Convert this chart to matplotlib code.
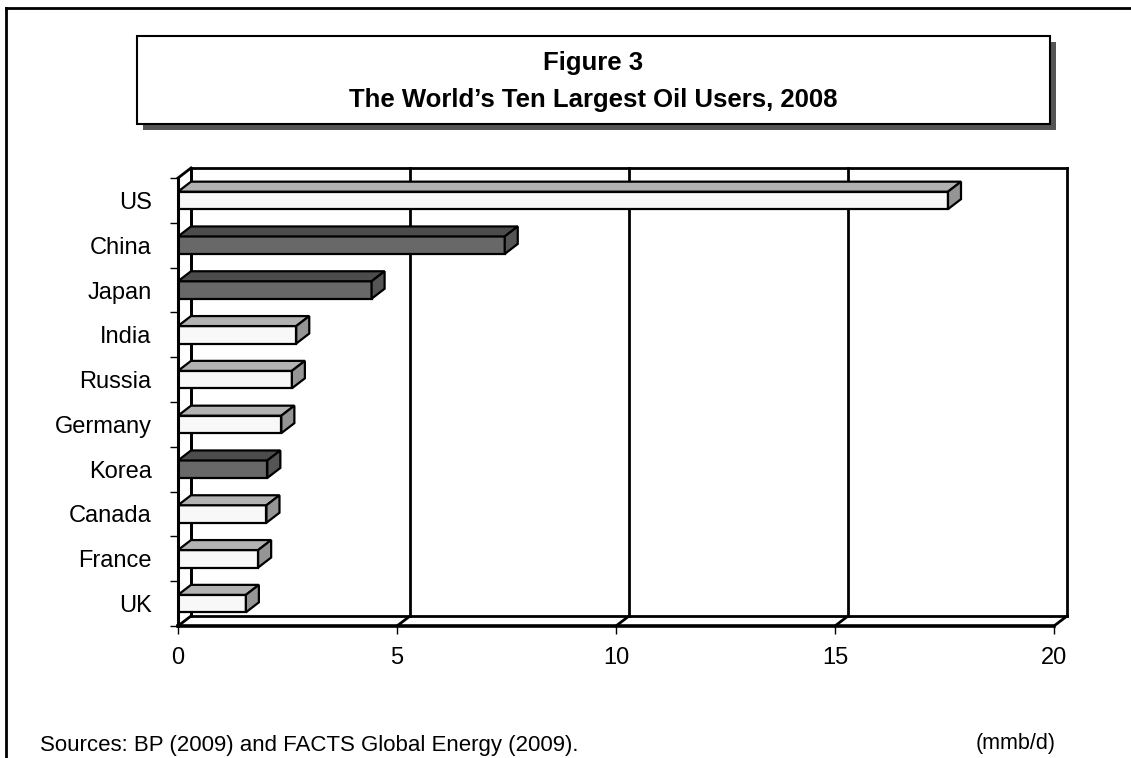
import numpy as np
import matplotlib.pyplot as plt
from matplotlib.patches import Polygon, Rectangle
from matplotlib.lines import Line2D

# ---- Data (mmb/d) ----
countries = ["US", "China", "Japan", "India", "Russia",
             "Germany", "Korea", "Canada", "France", "UK"]
consumption = [17.58, 7.46, 4.42, 2.70, 2.60, 2.36, 2.04, 2.02, 1.83, 1.55]
dark_ones = ["China", "Japan", "Korea"]
xticks = [0, 5, 10, 15, 20]

# ---- Figure geometry (pixels) ----
W, H = 1131, 758
fig = plt.figure(figsize=(W / 100, H / 100), dpi=100)
plt.rcParams['font.family'] = ['Liberation Sans', 'DejaVu Sans']

def fx(px):
    return px / W

def fy(py):
    return 1 - py / H

x0_px, x20_px = 178, 1054
ybot_px, ytop_px = 626, 178
ppu_x = (x20_px - x0_px) / 20.0
ppu_y = (ybot_px - ytop_px) / 10.0
DX = 13 / ppu_x          # depth offset in data units
DY = 10 / ppu_y

ax = fig.add_axes([fx(x0_px), fy(ybot_px), (x20_px - x0_px + 13) / W,
                   (ybot_px - ytop_px + 10) / H])
ax.set_xlim(0, 20 + DX)
ax.set_ylim(-0.5, 9.5 + DY)
ax.patch.set_visible(False)

# ---- 3D box: back wall, floor, left wall ----
k = dict(color='black', lw=2, clip_on=False, zorder=1)
ax.plot([DX, 20 + DX], [9.5 + DY, 9.5 + DY], **k)              # back top
ax.plot([DX, 20 + DX], [-0.5 + DY, -0.5 + DY], **k)            # back floor
ax.plot([DX, DX], [-0.5 + DY, 9.5 + DY], **k)                  # back left
ax.plot([0, DX], [9.5, 9.5 + DY], **k)                         # top diag
for t in xticks:
    ax.plot([t + DX, t + DX], [-0.5 + DY, 9.5 + DY], **k)      # gridlines
    ax.plot([t, t + DX], [-0.5, -0.5 + DY], **k)               # floor diag

# ---- Bars ----
ypos = np.arange(len(countries))[::-1]
h = 0.39
for c, v, y in zip(countries, consumption, ypos):
    if c in dark_ones:
        face, top, side = '#686868', '#4c4c4c', '#555555'
    else:
        face, top, side = '#f8f8f8', '#b2b2b2', '#959595'
    ax.barh(y, v, height=h, left=0, color=face, edgecolor='black',
            lw=1.6, zorder=3)
    yt = y + h / 2
    yb = y - h / 2
    ax.add_patch(Polygon([(0, yt), (v, yt), (v + DX, yt + DY), (DX, yt + DY)],
                         closed=True, fc=top, ec='black', lw=1.6, zorder=3))
    ax.add_patch(Polygon([(v, yb), (v + DX, yb + DY), (v + DX, yt + DY), (v, yt)],
                         closed=True, fc=side, ec='black', lw=1.6, zorder=3))

# ---- Axes: front left and bottom ----
for s in ['top', 'right']:
    ax.spines[s].set_visible(False)
ax.spines['left'].set_bounds(-0.5, 9.5)
ax.spines['bottom'].set_bounds(0, 20)
ax.spines['left'].set_linewidth(2.2)
ax.spines['bottom'].set_linewidth(2.6)
ax.spines['left'].set_zorder(4)
ax.spines['bottom'].set_zorder(4)

ax.set_xticks(xticks)
ax.set_xticklabels([str(t) for t in xticks])
ax.tick_params(axis='x', direction='out', length=6, width=1, pad=9,
               labelsize=17)
ax.set_yticks(ypos)
ax.set_yticklabels(countries)
ax.set_yticks(np.arange(-0.5, 10, 1.0), minor=True)
ax.tick_params(axis='y', which='major', length=0, pad=19, labelsize=17)
ax.tick_params(axis='y', which='minor', direction='out', length=6, width=1)

# ---- Outer frame ----
fig.add_artist(Line2D([fx(6), fx(W)], [fy(8), fy(8)], color='black', lw=2))
fig.add_artist(Line2D([fx(6), fx(6)], [fy(8), fy(H)], color='black', lw=2))

# ---- Title box with shadow ----
bx0, by0, bx1, by1 = 137, 36, 1050, 124
fig.add_artist(Rectangle((fx(bx0 + 6), fy(by1 + 6)), (bx1 - bx0) / W,
                         (by1 - by0) / H, fc='#555555', ec='none'))
fig.add_artist(Rectangle((fx(bx0), fy(by1)), (bx1 - bx0) / W,
                         (by1 - by0) / H, fc='white', ec='black', lw=1.5))
fig.text(fx(593), fy(63), "Figure 3", ha='center', va='center',
         fontsize=18.5, fontweight='bold')
fig.text(fx(593), fy(100), "The World\u2019s Ten Largest Oil Users, 2008",
         ha='center', va='center', fontsize=18.5, fontweight='bold')

# ---- Footnotes ----
fig.text(fx(40), fy(745), "Sources: BP (2009) and FACTS Global Energy (2009).",
         ha='left', va='center', fontsize=16)
fig.text(fx(1016), fy(743), "(mmb/d)", ha='center', va='center',
         fontsize=15.5)

fig.savefig("out.png", dpi=100)
